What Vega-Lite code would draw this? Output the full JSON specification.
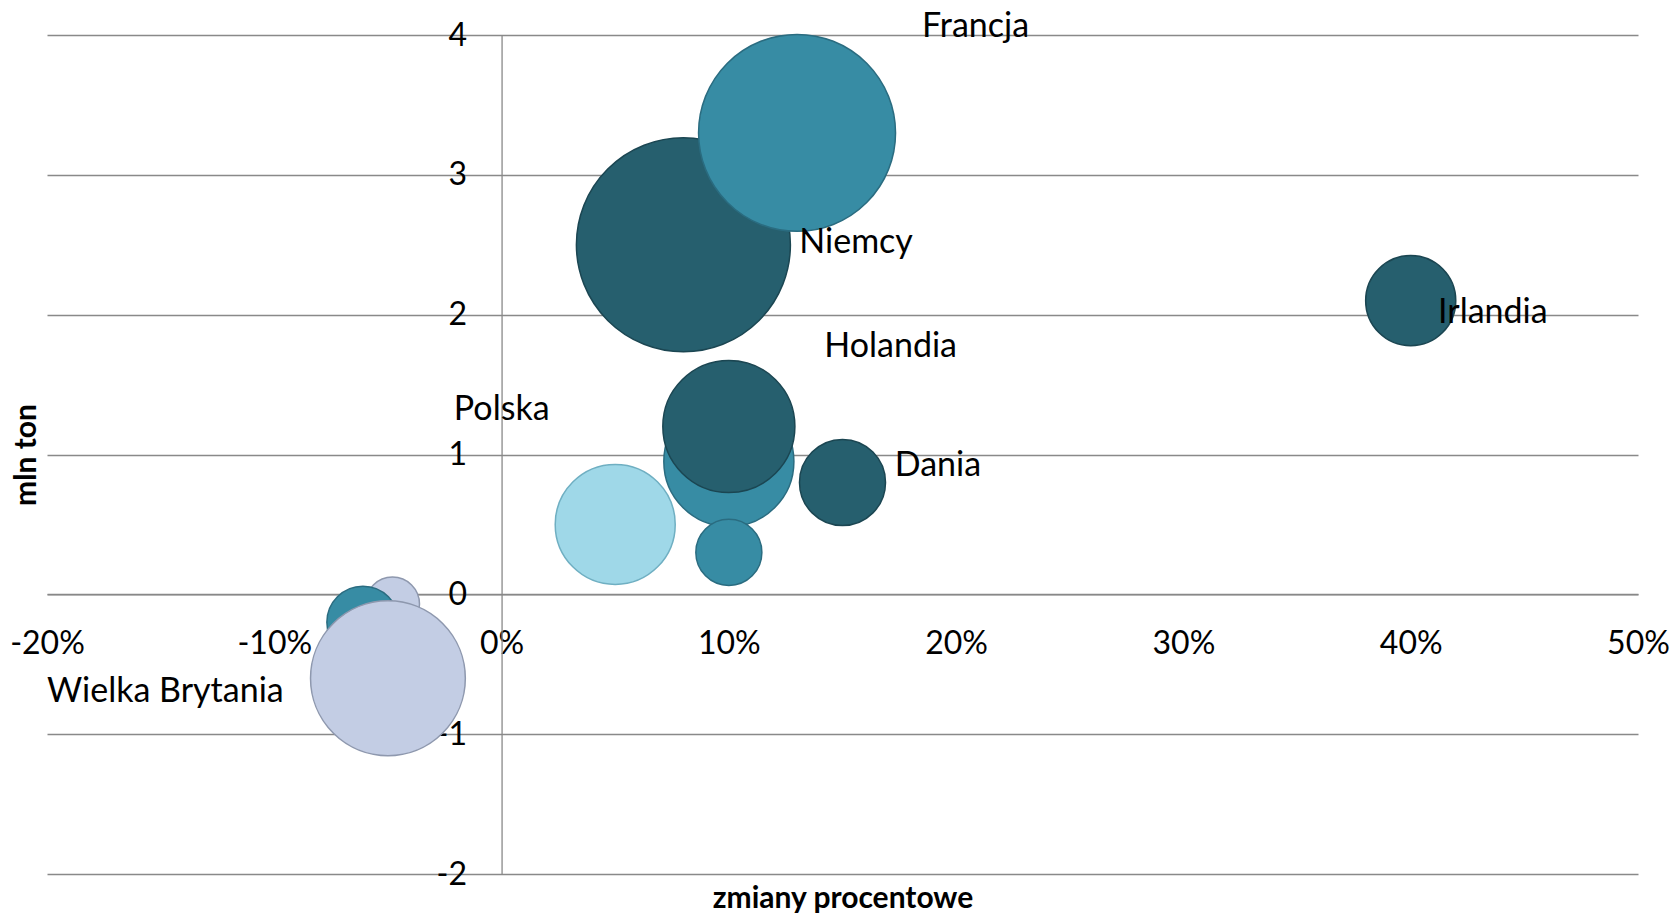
{
  "$schema": "https://vega.github.io/schema/vega-lite/v6.json",
  "autosize": {"type": "none"},
  "width": 1591,
  "height": 839,
  "padding": {"left": 47, "top": 35, "right": 37, "bottom": 39},
  "background": "white",
  "config": {"view": {"stroke": null}, "font": "Lato"},
  "datasets": {
    "bable": [
      {"kraj": "Niemcy", "zmiana": 0.08, "mln_ton": 2.5, "wielkosc": 11.45, "seria": "s1"},
      {"kraj": "Francja", "zmiana": 0.13, "mln_ton": 3.3, "wielkosc": 9.7, "seria": "s2"},
      {"kraj": "Irlandia", "zmiana": 0.40, "mln_ton": 2.1, "wielkosc": 2.03, "seria": "s1"},
      {"kraj": "", "zmiana": 0.10, "mln_ton": 0.95, "wielkosc": 4.23, "seria": "s2"},
      {"kraj": "Holandia", "zmiana": 0.10, "mln_ton": 1.2, "wielkosc": 4.36, "seria": "s1"},
      {"kraj": "Dania", "zmiana": 0.15, "mln_ton": 0.8, "wielkosc": 1.85, "seria": "s1"},
      {"kraj": "Polska", "zmiana": 0.05, "mln_ton": 0.5, "wielkosc": 3.6, "seria": "s3"},
      {"kraj": "", "zmiana": 0.10, "mln_ton": 0.3, "wielkosc": 1.09, "seria": "s2"},
      {"kraj": "", "zmiana": -0.048, "mln_ton": -0.07, "wielkosc": 0.73, "seria": "s4"},
      {"kraj": "", "zmiana": -0.061, "mln_ton": -0.2, "wielkosc": 1.3, "seria": "s2"},
      {"kraj": "Wielka Brytania", "zmiana": -0.05, "mln_ton": -0.6, "wielkosc": 5.99, "seria": "s4"}
    ],
    "etykiety": [
      {"nazwa": "Francja", "lx": 0.185, "ly": 4.06},
      {"nazwa": "Niemcy", "lx": 0.131, "ly": 2.51},
      {"nazwa": "Irlandia", "lx": 0.412, "ly": 2.01},
      {"nazwa": "Holandia", "lx": 0.142, "ly": 1.77},
      {"nazwa": "Polska", "lx": -0.021, "ly": 1.32},
      {"nazwa": "Dania", "lx": 0.173, "ly": 0.92},
      {"nazwa": "Wielka Brytania", "lx": -0.2, "ly": -0.70}
    ]
  },
  "layer": [
    {
      "data": {"name": "bable"},
      "mark": {"type": "circle", "opacity": 1, "strokeWidth": 1.5},
      "encoding": {
        "x": {
          "field": "zmiana", "type": "quantitative",
          "scale": {"domain": [-0.2, 0.5], "nice": false, "zero": false},
          "axis": {
            "values": [-0.2, -0.1, 0, 0.1, 0.2, 0.3, 0.4, 0.5],
            "labelExpr": "(datum.value < -0.0001 ? '-' : '') + format(abs(round(datum.value * 100)), 'd') + '%'",
            "offset": -279.67,
            "grid": false,
            "ticks": false,
            "tickSize": 0,
            "domainColor": "#898989",
            "domainWidth": 1.3,
            "labelFont": "Lato",
            "labelFontSize": 32,
            "labelColor": "#000000",
            "labelBaseline": "middle",
            "labelPadding": 49,
            "labelFlush": false,
            "labelOverlap": false,
            "labelBound": false,
            "title": "zmiany procentowe",
            "titleFont": "Lato",
            "titleFontSize": 30,
            "titleFontWeight": "bold",
            "titleColor": "#000000",
            "titleBaseline": "middle",
            "titleY": 304
          }
        },
        "y": {
          "field": "mln_ton", "type": "quantitative",
          "scale": {"domain": [-2, 4], "nice": false, "zero": false},
          "axis": {
            "values": [-2, -1, 0, 1, 2, 3, 4],
            "labelExpr": "(datum.value < 0 ? '-' : '') + format(abs(datum.value), 'd')",
            "offset": -454.57,
            "grid": true,
            "gridColor": "#898989",
            "gridWidth": 1.3,
            "ticks": false,
            "tickSize": 0,
            "domainColor": "#898989",
            "domainWidth": 1.3,
            "labelFont": "Lato",
            "labelFontSize": 32,
            "labelColor": "#000000",
            "labelPadding": 35,
            "labelOverlap": false,
            "labelBound": false,
            "labelFlush": false,
            "title": "mln ton",
            "titleFont": "Lato",
            "titleFontSize": 30,
            "titleFontWeight": "bold",
            "titleColor": "#000000",
            "titleBaseline": "middle",
            "titleX": -475,
            "titleY": 419.5
          }
        },
        "size": {
          "field": "wielkosc", "type": "quantitative",
          "scale": {"type": "linear", "domain": [0, 12], "range": [0, 48000], "zero": true},
          "legend": null
        },
        "color": {
          "field": "seria", "type": "nominal",
          "scale": {"domain": ["s1", "s2", "s3", "s4"], "range": ["#265F6E", "#378CA4", "#9FD8E8", "#C3CDE4"]},
          "legend": null
        },
        "stroke": {
          "field": "seria", "type": "nominal",
          "scale": {"domain": ["s1", "s2", "s3", "s4"], "range": ["#1B4652", "#2A6C80", "#6FAFC2", "#8E98AE"]},
          "legend": null
        }
      }
    },
    {
      "data": {"name": "etykiety"},
      "mark": {"type": "text", "align": "left", "baseline": "middle", "font": "Lato", "fontSize": 34, "color": "#000000"},
      "encoding": {
        "x": {"field": "lx", "type": "quantitative"},
        "y": {"field": "ly", "type": "quantitative"},
        "text": {"field": "nazwa", "type": "nominal"}
      }
    }
  ]
}
